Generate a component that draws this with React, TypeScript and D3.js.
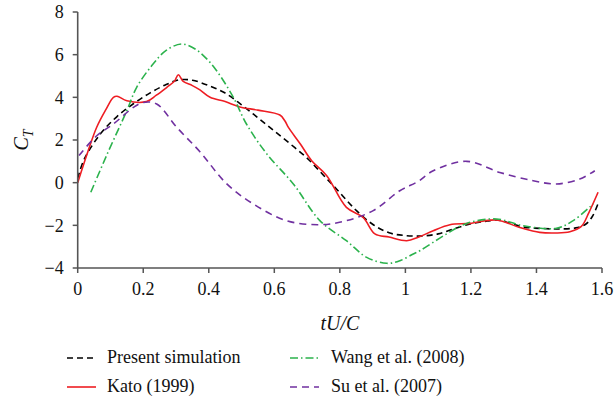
import React from "react";
import * as d3 from "d3";

const xTicks = [0, 0.2, 0.4, 0.6, 0.8, 1, 1.2, 1.4, 1.6];
const yTicks = [-4, -2, 0, 2, 4, 6, 8];

const presentX = [0, 0.02, 0.07, 0.12, 0.17, 0.22, 0.27, 0.31, 0.35, 0.4, 0.45, 0.5, 0.55, 0.6, 0.65, 0.7, 0.75, 0.8, 0.85, 0.9, 0.95, 1.0, 1.05, 1.1, 1.15, 1.2, 1.25, 1.28, 1.32, 1.36, 1.42, 1.47, 1.52, 1.55, 1.57, 1.59];
const presentY = [0.2, 1.1, 2.3, 3.1, 3.7, 4.2, 4.6, 4.82, 4.8, 4.55, 4.2, 3.65, 3.04, 2.42, 1.8, 1.15, 0.35, -0.47, -1.3, -1.95, -2.35, -2.48, -2.5, -2.4, -2.15, -1.93, -1.8, -1.75, -1.9, -2.08, -2.15, -2.17, -2.12, -1.95, -1.6, -0.9];

const katoX = [0, 0.032, 0.058, 0.085, 0.109, 0.12, 0.15, 0.21, 0.24, 0.272, 0.295, 0.307, 0.322, 0.35, 0.373, 0.404, 0.45, 0.495, 0.55, 0.617, 0.632, 0.643, 0.68, 0.714, 0.76, 0.82, 0.871, 0.907, 0.95, 1.004, 1.039, 1.085, 1.136, 1.197, 1.278, 1.349, 1.41, 1.46, 1.502, 1.537, 1.56, 1.588];
const katoY = [0, 1.5, 2.6, 3.4, 4.0, 4.05, 3.84, 3.8, 4.1, 4.47, 4.75, 5.06, 4.75, 4.55, 4.35, 4.0, 3.8, 3.55, 3.4, 3.17, 2.9, 2.59, 1.8, 1.03, 0.33, -1.16, -1.63, -2.4, -2.55, -2.72, -2.56, -2.25, -1.97, -1.91, -1.75, -2.1, -2.33, -2.36, -2.3, -2.05, -1.4, -0.45];

const wangX = [0.04, 0.088, 0.15, 0.18, 0.23, 0.27, 0.317, 0.36, 0.394, 0.424, 0.475, 0.515, 0.577, 0.658, 0.739, 0.82, 0.882, 0.943, 0.983, 1.024, 1.044, 1.126, 1.187, 1.278, 1.36, 1.461, 1.512, 1.573];
const wangY = [-0.45, 1.27, 3.38, 4.47, 5.56, 6.2, 6.5, 6.25, 5.8, 5.25, 4.0, 2.75, 1.35, -0.06, -1.78, -2.72, -3.5, -3.78, -3.66, -3.34, -3.19, -2.4, -1.91, -1.7, -2.02, -2.14, -1.78, -1.0];

const suX = [0.004, 0.058, 0.109, 0.17, 0.2, 0.241, 0.302, 0.373, 0.455, 0.536, 0.637, 0.739, 0.82, 0.902, 0.983, 1.039, 1.085, 1.187, 1.288, 1.39, 1.461, 1.532, 1.578];
const suY = [1.27, 2.2, 2.75, 3.53, 3.76, 3.69, 2.6, 1.45, -0.06, -1.0, -1.78, -1.97, -1.78, -1.31, -0.38, 0.06, 0.56, 1.0, 0.48, 0.09, -0.06, 0.17, 0.56];

const seriesNames = ["Present simulation", "Kato (1999)", "Wang et al. (2008)", "Su et al. (2007)"];

export default function App() {
  const left = 77.7, right = 602, top = 12, bottom = 268;
  const x = d3.scaleLinear().domain([0, 1.6]).range([left, right]);
  const y = d3.scaleLinear().domain([-4, 8]).range([bottom, top]);
  const line = d3
    .line<[number, number]>()
    .x((d) => x(d[0]))
    .y((d) => y(d[1]))
    .curve(d3.curveCatmullRom.alpha(0.5));
  const zip = (xs: number[], ys: number[]) => xs.map((v, i) => [v, ys[i]] as [number, number]);

  const series = [
    { name: seriesNames[0], d: zip(presentX, presentY), color: "#000000", dash: "6,4" },
    { name: seriesNames[1], d: zip(katoX, katoY), color: "#ee1d23", dash: "" },
    { name: seriesNames[2], d: zip(wangX, wangY), color: "#2bb24c", dash: "8,3,1.5,3" },
    { name: seriesNames[3], d: zip(suX, suY), color: "#7030a0", dash: "7,5" },
  ];
  const font = "Liberation Serif";
  const axisColor = "#555";
  const legendPos = [
    { lx: 67, tx: 107, ty: 363 },
    { lx: 67, tx: 107, ty: 392 },
    { lx: 290, tx: 331, ty: 363 },
    { lx: 290, tx: 331, ty: 392 },
  ];

  return (
    <svg width={616} height={407} style={{ position: "absolute", left: 0, top: 0, background: "#fff" }}>
      {series.map((s) => (
        <path key={s.name} d={line(s.d) || ""} fill="none" stroke={s.color} strokeWidth={1.6} strokeDasharray={s.dash} />
      ))}
      <line x1={left} x2={left} y1={top} y2={bottom} stroke={axisColor} strokeWidth={1.6} />
      <line x1={left} x2={right} y1={bottom} y2={bottom} stroke={axisColor} strokeWidth={1.6} />
      {yTicks.map((t) => (
        <g key={"y" + t}>
          <line x1={left - 5} x2={left} y1={y(t)} y2={y(t)} stroke={axisColor} strokeWidth={1.5} />
          <text x={left - 14} y={y(t)} dy="0.35em" textAnchor="end" fontFamily={font} fontSize={18} fill="#111">
            {t < 0 ? "\u2212" + Math.abs(t) : t}
          </text>
        </g>
      ))}
      {xTicks.map((t) => (
        <g key={"x" + t}>
          <line x1={x(t)} x2={x(t)} y1={bottom} y2={bottom + 5} stroke={axisColor} strokeWidth={1.5} />
          <text x={x(t)} y={bottom + 27} textAnchor="middle" fontFamily={font} fontSize={18} fill="#111">
            {t}
          </text>
        </g>
      ))}
      <text transform="translate(28,140) rotate(-90)" textAnchor="middle" fontFamily={font} fontSize={20} fontStyle="italic" fill="#111">
        C<tspan fontSize={14} dy={5}>T</tspan>
      </text>
      <text x={x(0.8)} y={330} textAnchor="middle" fontFamily={font} fontSize={20} fontStyle="italic" fill="#111">
        tU/C
      </text>
      {series.map((s, i) => (
        <g key={"lg" + i}>
          <line x1={legendPos[i].lx} x2={legendPos[i].lx + 29} y1={legendPos[i].ty - 5} y2={legendPos[i].ty - 5} stroke={s.color} strokeWidth={1.6} strokeDasharray={s.dash} />
          <text x={legendPos[i].tx} y={legendPos[i].ty} fontFamily={font} fontSize={18} fill="#111">
            {s.name}
          </text>
        </g>
      ))}
    </svg>
  );
}
